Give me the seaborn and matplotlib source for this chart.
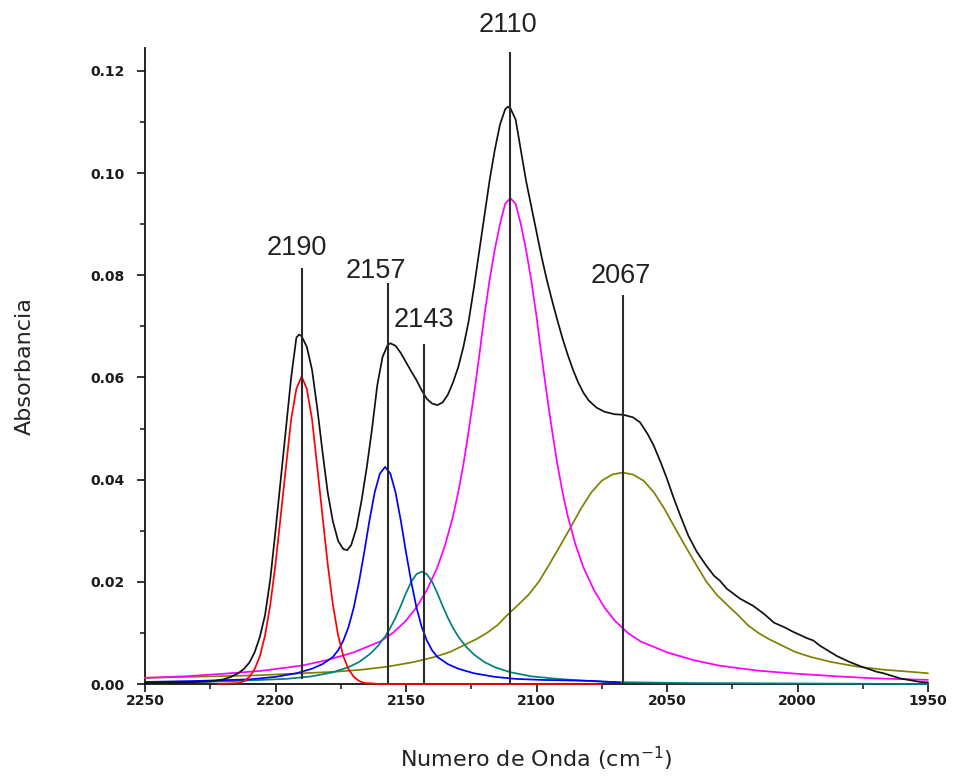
import matplotlib
matplotlib.use("Agg")
import matplotlib.pyplot as plt
import numpy as np
import pandas as pd
import seaborn as sns
from matplotlib.ticker import MultipleLocator, FormatStrFormatter

# ---- Measured spectrum (black) ----
spec_x = [2250, 2235, 2225, 2220, 2217, 2214, 2212, 2210, 2208, 2206, 2204, 2202,
          2200, 2198, 2196, 2194, 2192, 2191, 2190, 2188, 2186, 2184, 2182, 2180,
          2178, 2176, 2174, 2172.5, 2171, 2169, 2167, 2165, 2163, 2161, 2159, 2157,
          2156, 2154, 2152, 2150, 2148, 2146, 2144, 2142, 2140, 2138, 2136, 2134,
          2132, 2130, 2128, 2126, 2124, 2122, 2120, 2118, 2116, 2114, 2112, 2111,
          2110, 2108, 2106, 2104, 2102, 2100, 2098, 2096, 2094, 2092, 2090, 2088,
          2086, 2084, 2082, 2080, 2077, 2074, 2070, 2066.7, 2063, 2060.3, 2057.5,
          2055.2, 2052.5, 2050.1, 2047.5, 2045, 2041.8, 2038.6, 2035, 2032, 2029.7,
          2027.2, 2022, 2017, 2013, 2009, 2005, 2001.6, 1996.5, 1993.9, 1991.4,
          1985, 1980, 1976, 1969.7, 1967, 1960.7, 1953, 1950]
spec_y = [0.0002, 0.0003, 0.0005, 0.0009, 0.0014, 0.0022, 0.0030, 0.0042, 0.0062,
          0.0092, 0.0135, 0.0205, 0.0300, 0.0400, 0.0500, 0.0600, 0.0678, 0.0684,
          0.0681, 0.0660, 0.0615, 0.0540, 0.0455, 0.0375, 0.0318, 0.0280, 0.0264,
          0.0262, 0.0272, 0.0305, 0.0360, 0.0425, 0.0500, 0.0585, 0.0640, 0.0664,
          0.0667, 0.0662, 0.0648, 0.0630, 0.0612, 0.0595, 0.0575, 0.0558, 0.0549,
          0.0546, 0.0551, 0.0566, 0.0590, 0.0620, 0.0660, 0.0710, 0.0775, 0.0845,
          0.0915, 0.0985, 0.1045, 0.1095, 0.1125, 0.1130, 0.1127, 0.1105, 0.1045,
          0.0985, 0.0935, 0.0885, 0.0835, 0.0790, 0.0750, 0.0712, 0.0676, 0.0644,
          0.0615, 0.0590, 0.0570, 0.0555, 0.0541, 0.0533, 0.0528, 0.0527, 0.0522,
          0.0512, 0.0490, 0.0468, 0.0435, 0.0403, 0.0365, 0.0331, 0.0290, 0.0259,
          0.0232, 0.0212, 0.0202, 0.0187, 0.0167, 0.0153, 0.0138, 0.0120, 0.0111,
          0.0102, 0.0090, 0.0085, 0.0075, 0.0055, 0.0043, 0.0035, 0.0024, 0.0021,
          0.0011, 0.0004, 0.0003]

# ---- Fitted bands ----
band_2190_x = [2222, 2214, 2212, 2210, 2208, 2206, 2204, 2202, 2200, 2198, 2196, 2194,
               2192, 2190, 2188, 2186, 2184, 2182, 2180, 2178, 2176, 2174, 2172, 2170,
               2168, 2166, 2160, 2075]
band_2190_y = [0.0, 0.0002, 0.0006, 0.0014, 0.0029, 0.0054, 0.0095, 0.0155, 0.0235,
               0.0329, 0.0425, 0.0518, 0.0578, 0.0602, 0.0578, 0.0518, 0.0425, 0.0329,
               0.0235, 0.0155, 0.0095, 0.0054, 0.0029, 0.0014, 0.0006, 0.0002, 0.0,
               0.0]

band_2157_x = [2250, 2230, 2210, 2200, 2192, 2186, 2182, 2178, 2176, 2174, 2172, 2170,
               2168, 2166, 2164, 2162, 2160, 2158, 2156, 2154, 2152, 2150, 2148, 2146,
               2144, 2142, 2140, 2138, 2134, 2130, 2124, 2116, 2108, 2098, 2078, 2068]
band_2157_y = [0.0004, 0.0006, 0.0009, 0.0014, 0.0021, 0.0030, 0.0039, 0.0053, 0.0066,
               0.0085, 0.0112, 0.0150, 0.0200, 0.0258, 0.0320, 0.0375, 0.0412, 0.0425,
               0.0412, 0.0375, 0.0320, 0.0258, 0.0200, 0.0150, 0.0112, 0.0085, 0.0066,
               0.0053, 0.0039, 0.0030, 0.0021, 0.0014, 0.0010, 0.0008, 0.0006, 0.0003]

band_2143_x = [2250, 2220, 2196, 2186, 2178, 2172, 2168, 2164, 2161, 2158, 2156, 2154,
               2152, 2150, 2148, 2146, 2144, 2142, 2140, 2138, 2136, 2134, 2132, 2130,
               2127, 2124, 2120, 2116, 2110, 2102, 2092, 2074, 2044, 1950]
band_2143_y = [0.0003, 0.0005, 0.0010, 0.0015, 0.0023, 0.0033, 0.0043, 0.0058, 0.0073,
               0.0093, 0.0110, 0.0130, 0.0153, 0.0178, 0.0200, 0.0215, 0.0220, 0.0215,
               0.0200, 0.0178, 0.0153, 0.0130, 0.0110, 0.0093, 0.0073, 0.0058, 0.0043,
               0.0033, 0.0023, 0.0015, 0.0010, 0.0004, 0.0002, 0.0]

band_2110_x = [2250, 2235, 2220, 2205, 2190, 2180, 2170, 2160, 2155, 2150, 2146, 2142,
               2138, 2135, 2132, 2130, 2128, 2126, 2124, 2122, 2120, 2118, 2116, 2114,
               2112, 2110, 2108, 2106, 2104, 2102, 2100, 2098, 2096, 2094, 2092, 2090,
               2088, 2085, 2082, 2078, 2074, 2070, 2065, 2060, 2050, 2040, 2030, 2015,
               2000, 1985, 1970, 1950]
band_2110_y = [0.0012, 0.0015, 0.0020, 0.0026, 0.0036, 0.0047, 0.0062, 0.0083, 0.0100,
               0.0124, 0.0150, 0.0184, 0.0228, 0.0272, 0.0328, 0.0375, 0.0430, 0.0495,
               0.0565, 0.0640, 0.0720, 0.0790, 0.0850, 0.0900, 0.0940, 0.0951, 0.0940,
               0.0900, 0.0850, 0.0790, 0.0720, 0.0640, 0.0565, 0.0495, 0.0430, 0.0375,
               0.0328, 0.0272, 0.0228, 0.0184, 0.0150, 0.0124, 0.0100, 0.0083, 0.0062,
               0.0047, 0.0036, 0.0026, 0.0020, 0.0015, 0.0011, 0.0008]

band_2067_x = [2250, 2207, 2177, 2167, 2157, 2147, 2139, 2133, 2127, 2123, 2119, 2115,
               2111, 2107, 2103, 2099, 2095, 2091, 2087, 2083, 2079, 2075, 2071, 2067,
               2063, 2059, 2055, 2051, 2047, 2043, 2039, 2035, 2031, 2027, 2023, 2019,
               2015, 2011, 2007, 2001, 1995, 1987, 1977, 1967, 1957, 1950]
band_2067_y = [0.0012, 0.0017, 0.0024, 0.0028, 0.0034, 0.0043, 0.0053, 0.0063, 0.0078,
               0.0088, 0.0100, 0.0115, 0.0136, 0.0155, 0.0175, 0.0201, 0.0235, 0.0270,
               0.0306, 0.0343, 0.0375, 0.0398, 0.0410, 0.0414, 0.0410, 0.0398, 0.0375,
               0.0343, 0.0306, 0.0270, 0.0235, 0.0201, 0.0175, 0.0155, 0.0136, 0.0115,
               0.0100, 0.0088, 0.0078, 0.0063, 0.0053, 0.0043, 0.0034, 0.0028, 0.0024,
               0.0021]

# ---- Band assignments marked on the spectrum ----
peak_labels = ["2190", "2157", "2143", "2110", "2067"]
peak_pos = [2190, 2157, 2143, 2110, 2067]
peak_line_top = [0.0814, 0.0785, 0.0666, 0.1237, 0.0762]
peak_line_base = [0.001, 0.0, 0.0, 0.0, 0.0]

x_ticks = [2250, 2200, 2150, 2100, 2050, 2000, 1950]
y_ticks = [0.00, 0.02, 0.04, 0.06, 0.08, 0.10, 0.12]

# ---- Assemble long-form table ----
series = [
    ("banda 2067", band_2067_x, band_2067_y),
    ("banda 2110", band_2110_x, band_2110_y),
    ("banda 2143", band_2143_x, band_2143_y),
    ("banda 2157", band_2157_x, band_2157_y),
    ("banda 2190", band_2190_x, band_2190_y),
    ("espectro", spec_x, spec_y),
]
df = pd.concat(
    [pd.DataFrame({"wn": xs, "absb": ys, "curva": name}) for name, xs, ys in series],
    ignore_index=True,
)
order = [s[0] for s in series]
palette = {
    "banda 2067": "#808000",
    "banda 2110": "#FF00FF",
    "banda 2143": "#008080",
    "banda 2157": "#0000FF",
    "banda 2190": "#FF0000",
    "espectro": "#111111",
}

sns.set_style("ticks")
plt.rcParams["font.family"] = ["Liberation Sans", "DejaVu Sans"]

fig = plt.figure(figsize=(9.56, 7.78), dpi=100)
ax = fig.add_axes([145 / 956, 1 - 684 / 778, (928 - 145) / 956, (684 - 48) / 778])

sns.lineplot(data=df, x="wn", y="absb", hue="curva", hue_order=order,
             palette=palette, sort=False, estimator=None, legend=False,
             linewidth=1.25, ax=ax)
for i, line in enumerate(ax.lines):
    line.set_zorder(3 + i * 0.1)
    line.set_clip_on(False)

# Vertical markers at assigned band positions
ax.vlines(peak_pos, peak_line_base, peak_line_top, colors="#2b2b2b",
          linewidth=1.5, zorder=4, clip_on=False)
label_offsets = [(-3.6, 5), (-8.5, -1), (-0.5, 8), (-2.0, 10), (-1.0, 4)]
for lab, pos, top, (dx, dy) in zip(peak_labels, peak_pos, peak_line_top, label_offsets):
    ax.annotate(lab, xy=(pos, top), xytext=(dx, dy), textcoords="offset points",
                ha="center", va="bottom", fontsize=19.5, color="#222222",
                annotation_clip=False)

ax.set_xlim(2250, 1950)
ax.set_ylim(0, 0.1245)
ax.set_xticks(x_ticks)
ax.set_yticks(y_ticks)
ax.xaxis.set_minor_locator(MultipleLocator(25))
ax.yaxis.set_minor_locator(MultipleLocator(0.01))
ax.yaxis.set_major_formatter(FormatStrFormatter("%.2f"))

sns.despine(ax=ax)
for side in ("left", "bottom"):
    ax.spines[side].set_linewidth(1.3)
    ax.spines[side].set_color("#111111")

ax.tick_params(axis="both", which="major", direction="out", length=5.5, width=1.2,
               color="#111111", labelcolor="#1c1c1c")
ax.tick_params(axis="both", which="minor", direction="out", length=3.5, width=1.1,
               color="#111111")
ax.tick_params(axis="y", which="major", pad=9)
ax.tick_params(axis="x", which="major", pad=1.5)
for t in ax.get_xticklabels() + ax.get_yticklabels():
    t.set_fontfamily(["DejaVu Sans"])
    t.set_fontweight("bold")
    t.set_fontsize(10)

label_font = dict(fontsize=16, color="#222222", family=["DejaVu Sans"])
ax.set_xlabel("Numero de Onda (cm$^{-1}$)", labelpad=27, **label_font)
ax.set_ylabel("Absorbancia", labelpad=40, **label_font)
ax.grid(False)

fig.savefig("out.png", dpi=100, facecolor="white")
